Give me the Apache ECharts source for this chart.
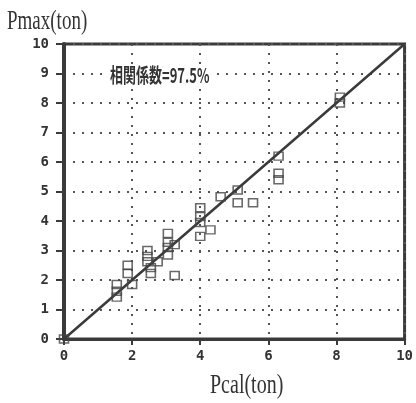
<!DOCTYPE html>
<html><head><meta charset="utf-8">
<script src="https://cdn.jsdelivr.net/npm/echarts@6/dist/echarts.min.js"></script>
<style>html,body{margin:0;padding:0;background:#fff}#c{width:416px;height:403px}</style>
</head><body><div id="c"></div>
<script>
const pcal = [0,1.55,1.55,1.55,1.87,1.87,2.0,2.45,2.45,2.45,2.55,2.55,2.75,3.05,3.05,3.05,3.05,3.25,3.25,4.0,4.0,4.0,4.0,4.3,4.6,5.1,5.1,5.55,6.3,6.3,6.3,8.1,8.1];
const pmax = [0,1.85,1.62,1.42,2.5,2.22,1.85,3.0,2.8,2.62,2.42,2.22,2.62,3.58,3.28,3.1,2.85,2.15,3.2,4.45,4.15,3.95,3.48,3.7,4.82,5.05,4.62,4.62,6.2,5.62,5.4,8.2,8.0];
const fitLine = [[0,0],[10,10]];
const xTicks = [0,2,4,6,8,10];
const yTicks = [0,1,2,3,4,5,6,7,8,9,10];
const xName = 'Pcal(ton)';
const yName = 'Pmax(ton)';
const note = '相関係数=97.5%';

const chart = echarts.init(document.getElementById('c'), null, {renderer:'canvas'});
const dark = '#3a3a3a';
const dotted = {color:'#555', width:2, type:[2,7]};
chart.setOption({
  backgroundColor:'#fff',
  animation:false,
  grid:{left:64,right:10,top:44,bottom:64,show:true,borderColor:dark,borderWidth:3,backgroundColor:'transparent'},
  xAxis:{type:'value',min:0,max:10,interval:2,
    axisLine:{show:true,lineStyle:{color:dark,width:3}},
    axisTick:{show:true,length:6,lineStyle:{color:dark,width:2}},
    axisLabel:{color:'#333',fontFamily:'DejaVu Sans Mono',fontWeight:'bold',fontSize:14,margin:10,
      formatter:v=>xTicks.includes(v)?String(v):''},
    splitLine:{show:true,lineStyle:dotted}},
  yAxis:{type:'value',min:0,max:10,interval:1,
    axisLine:{show:true,lineStyle:{color:dark,width:4}},
    axisTick:{show:true,length:8,lineStyle:{color:dark,width:2}},
    axisLabel:{color:'#333',fontFamily:'DejaVu Sans Mono',fontWeight:'bold',fontSize:14,margin:15,
      formatter:v=>yTicks.includes(v)?String(v):''},
    splitLine:{show:true,lineStyle:dotted}},
  graphic:[
    {type:'group',x:7,y:9,scaleX:1,scaleY:1.4,children:[
      {type:'text',x:0,y:0,style:{text:yName,font:'19px "Liberation Serif"',fill:'#333'}}]},
    {type:'group',x:210,y:372,scaleX:1,scaleY:1.4,children:[
      {type:'text',x:0,y:0,style:{text:xName,font:'20px "Liberation Serif"',fill:'#333'}}]},
    {type:'group',x:107,y:64,scaleX:1,scaleY:1.55,z:10,children:[
      {type:'text',x:0,y:0,z:10,style:{text:note,font:'bold 13px "Noto Sans CJK JP"',fill:'#333',backgroundColor:'#fff',padding:[1,3]}}]}
  ],
  series:[
    {type:'line',data:fitLine,showSymbol:false,lineStyle:{color:dark,width:2.5},z:3,silent:true},
    {type:'scatter',data:pcal.map((x,i)=>[x,pmax[i]]),symbol:'rect',symbolSize:[9,8],
      itemStyle:{color:'rgba(255,255,255,0)',borderColor:'#444',borderWidth:1.5},z:4}
  ]
});
</script></body></html>
